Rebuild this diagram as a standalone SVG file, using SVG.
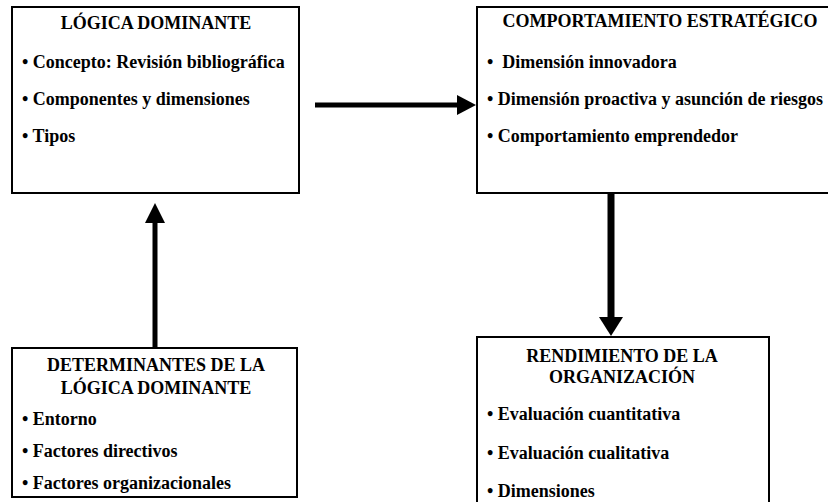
<svg xmlns="http://www.w3.org/2000/svg" width="828" height="502" viewBox="0 0 828 502">
  <style>
    .box { fill: #ffffff; stroke: #000000; stroke-width: 2; }
    .t { font-family: "Liberation Serif", "Times New Roman", serif; font-weight: bold; font-size: 18px; fill: #000000; }
    .c { text-anchor: middle; }
    .shaft { stroke: #000000; fill: none; }
    .head { fill: #000000; stroke: none; }
  </style>
  <rect x="0" y="0" width="828" height="502" fill="#ffffff"/>

  <!-- connectors -->
  <g id="connectors">
    <line class="shaft" x1="315" y1="105" x2="459" y2="105" stroke-width="5"/>
    <polygon class="head" points="457,95 476,105 457,115"/>
    <line class="shaft" x1="155" y1="347" x2="155" y2="221" stroke-width="5"/>
    <polygon class="head" points="145,223 155,203 165,223"/>
    <line class="shaft" x1="611" y1="194" x2="611" y2="319" stroke-width="7"/>
    <polygon class="head" points="599,317 623,317 611,336"/>
  </g>

  <!-- dominant logic -->
  <g id="logica-dominante">
    <rect class="box" x="12" y="7" width="287" height="186"/>
    <text class="t c" x="156" y="29">LÓGICA DOMINANTE</text>
    <text class="t" x="22" y="68">• Concepto: Revisión bibliográfica</text>
    <text class="t" x="22" y="105">• Componentes y dimensiones</text>
    <text class="t" x="22" y="142">• Tipos</text>
  </g>

  <!-- strategic behaviour -->
  <g id="comportamiento-estrategico">
    <rect class="box" x="477" y="7" width="370" height="186"/>
    <text class="t c" x="660" y="27">COMPORTAMIENTO ESTRATÉGICO</text>
    <text class="t" x="487" y="68" xml:space="preserve">•  Dimensión innovadora</text>
    <text class="t" x="487" y="105">• Dimensión proactiva y asunción de riesgos</text>
    <text class="t" x="487" y="142">• Comportamiento emprendedor</text>
  </g>

  <!-- determinants -->
  <g id="determinantes">
    <rect class="box" x="12" y="348" width="285" height="149"/>
    <text class="t c" x="156" y="371">DETERMINANTES DE LA</text>
    <text class="t c" x="156" y="394">LÓGICA DOMINANTE</text>
    <text class="t" x="22" y="425">• Entorno</text>
    <text class="t" x="22" y="457">• Factores directivos</text>
    <text class="t" x="22" y="489">• Factores organizacionales</text>
  </g>

  <!-- organisational performance -->
  <g id="rendimiento">
    <rect class="box" x="477" y="337" width="292" height="180"/>
    <text class="t c" x="622" y="362">RENDIMIENTO DE LA</text>
    <text class="t c" x="622" y="383">ORGANIZACIÓN</text>
    <text class="t" x="487" y="420">• Evaluación cuantitativa</text>
    <text class="t" x="487" y="459">• Evaluación cualitativa</text>
    <text class="t" x="487" y="497">• Dimensiones</text>
  </g>
</svg>
